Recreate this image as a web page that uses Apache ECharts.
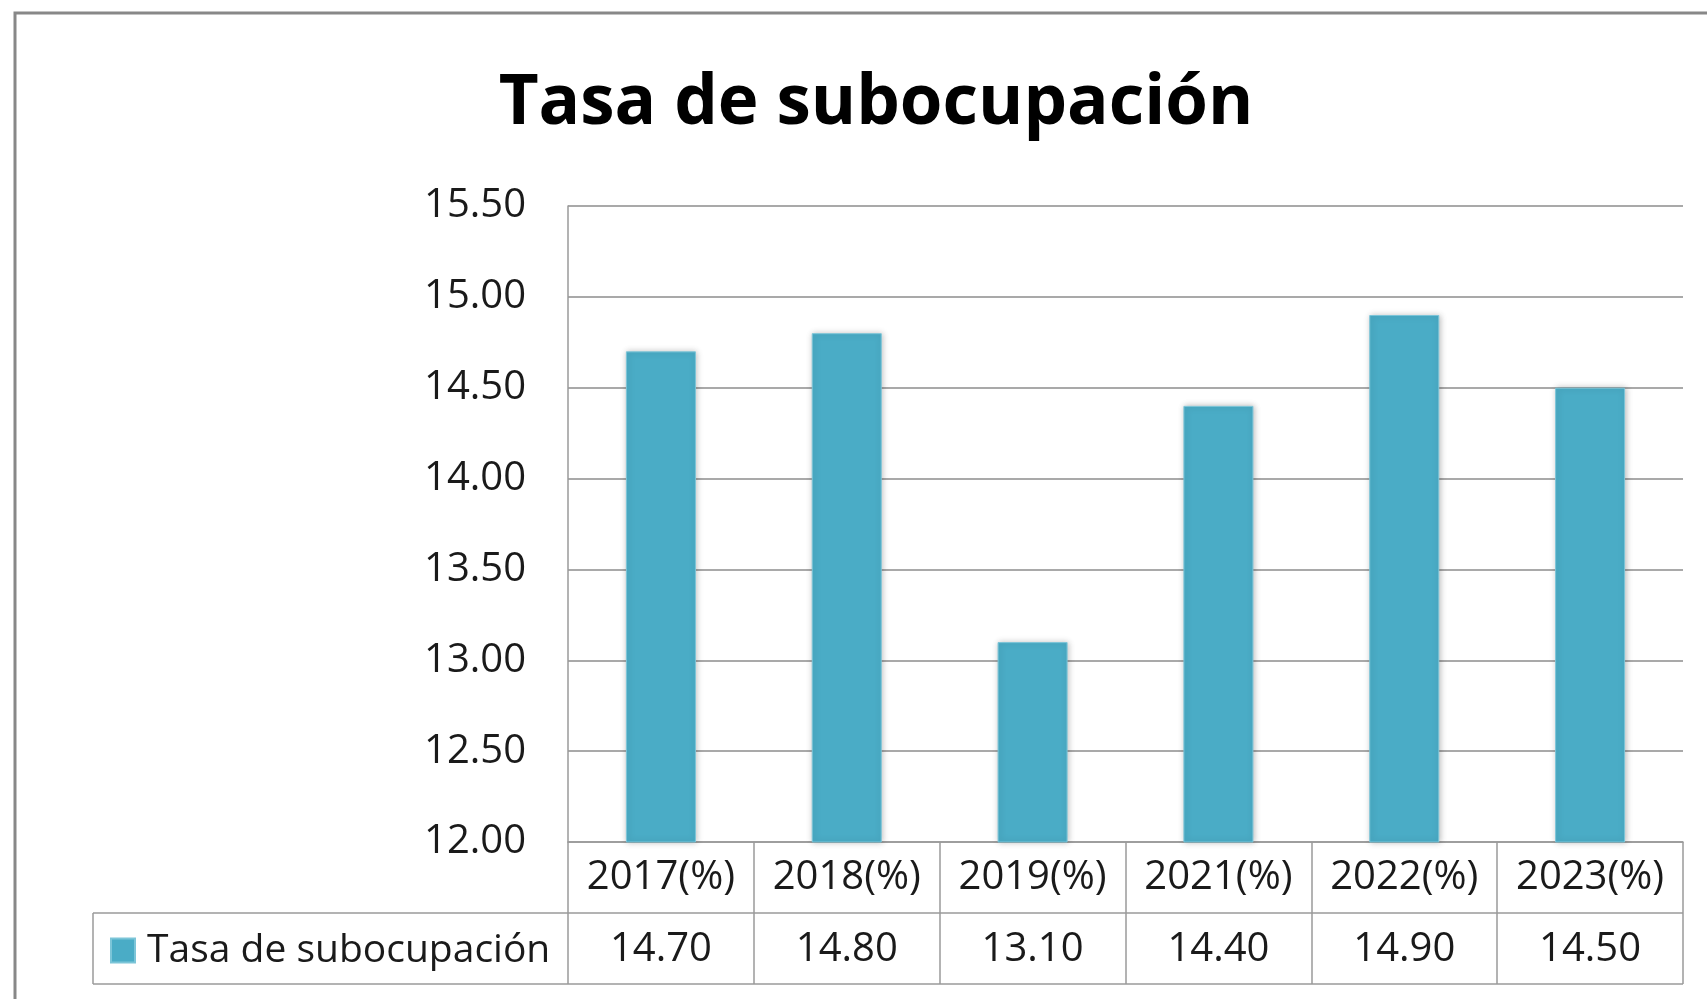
<!DOCTYPE html>
<html>
<head>
<meta charset="utf-8">
<script src="https://cdn.jsdelivr.net/npm/echarts@6/dist/echarts.min.js"></script>
<style>
html,body{margin:0;padding:0;background:#fff;}
#chart{width:1707px;height:999px;}
</style>
</head>
<body>
<div id="chart"></div>
<script>
const titleText = 'Tasa de subocupación';
const seriesName = 'Tasa de subocupación';
const categories = ['2017(%)', '2018(%)', '2019(%)', '2021(%)', '2022(%)', '2023(%)'];
const values = [14.70, 14.80, 13.10, 14.40, 14.90, 14.50];
const yMin = 12, yMax = 15.5, yStep = 0.5;

const FONT = 'Open Sans';
const GRID = {left: 568, right: 24, top: 206, bottom: 157};
const axisY = 999 - GRID.bottom;
const plotRight = 1707 - GRID.right;
const rowH = 71;
const lineColor = '#9a9a9a';

const chart = echarts.init(document.getElementById('chart'));
chart.setOption({
  backgroundColor: '#ffffff',
  animation: false,
  title: {
    text: titleText,
    left: 871, textAlign: 'center',
    top: 65,
    textStyle: {fontFamily: FONT, fontWeight: 'bold', fontSize: 69, color: '#000'}
  },
  legend: {
    data: [seriesName],
    left: 105, top: 926,
    icon: 'rect', itemWidth: 24, itemHeight: 24,
    textStyle: {fontFamily: FONT, fontSize: 39, color: '#1a1a1a', padding: [0, 0, 0, 7]}
  },
  grid: {left: GRID.left, right: GRID.right, top: GRID.top, bottom: GRID.bottom},
  xAxis: [{
    type: 'category', data: categories, position: 'bottom',
    axisLine: {show: true, lineStyle: {color: lineColor, width: 1.5}},
    axisTick: {show: true, length: rowH * 2, lineStyle: {color: lineColor, width: 1.5}},
    axisLabel: {fontFamily: FONT, fontSize: 40, color: '#1a1a1a', margin: 16, lineHeight: 40, interval: 0}
  }, {
    type: 'category', data: categories, position: 'bottom', offset: rowH,
    axisLine: {show: false}, axisTick: {show: false},
    axisLabel: {fontFamily: FONT, fontSize: 40, color: '#1a1a1a', margin: 17, lineHeight: 40, interval: 0,
      formatter: (v, i) => values[i].toFixed(2)}
  }],
  yAxis: {
    type: 'value', min: yMin, max: yMax, interval: yStep,
    axisLine: {show: true, lineStyle: {color: lineColor, width: 1.5}},
    axisTick: {show: false},
    splitLine: {show: true, lineStyle: {color: '#8c8c8c', width: 1.5}},
    axisLabel: {fontFamily: FONT, fontSize: 40, color: '#1a1a1a', margin: 42, formatter: v => v.toFixed(2)}
  },
  series: [{
    name: seriesName, type: 'bar', data: values, barWidth: 70,
    itemStyle: {color: '#4aacc6', borderColor: '#7cc5d8', borderWidth: 1,
      shadowBlur: 6, shadowColor: 'rgba(0,0,0,0.25)', shadowOffsetX: 1, shadowOffsetY: 0}
  }],
  graphic: [
    {type: 'rect', z: -10, shape: {x: 15, y: 13, width: 1760, height: 1060}, style: {fill: 'none', stroke: '#888', lineWidth: 3}},
    {type: 'line', shape: {x1: 93, y1: axisY + rowH, x2: plotRight, y2: axisY + rowH}, style: {stroke: lineColor, lineWidth: 1.5}},
    {type: 'line', shape: {x1: 93, y1: axisY + rowH * 2, x2: plotRight, y2: axisY + rowH * 2}, style: {stroke: lineColor, lineWidth: 1.5}},
    {type: 'line', shape: {x1: 93, y1: axisY + rowH, x2: 93, y2: axisY + rowH * 2}, style: {stroke: lineColor, lineWidth: 1.5}}
  ]
});
</script>
</body>
</html>
